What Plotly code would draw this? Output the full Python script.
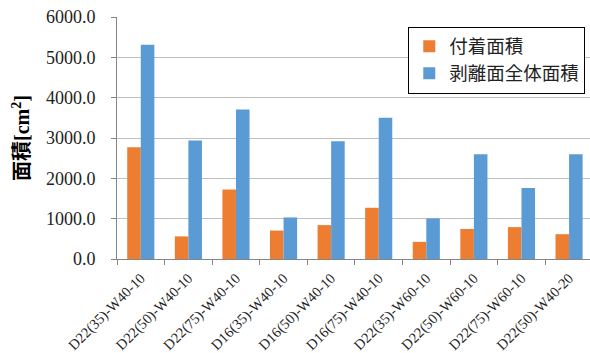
import plotly.graph_objects as go

categories = ["D22(35)-W40-10", "D22(50)-W40-10", "D22(75)-W40-10", "D16(35)-W40-10",
              "D16(50)-W40-10", "D16(75)-W40-10", "D22(35)-W60-10", "D22(50)-W60-10",
              "D22(75)-W60-10", "D22(50)-W40-20"]
adhesion_area = [2770, 560, 1725, 705, 840, 1270, 425, 745, 790, 615]
peel_total_area = [5310, 2935, 3705, 1030, 2920, 3500, 1005, 2600, 1760, 2600]
series_names = ["付着面積", "剥離面全体面積"]
y_ticks = [0, 1000, 2000, 3000, 4000, 5000, 6000]

fig = go.Figure()
fig.add_trace(go.Bar(x=categories, y=adhesion_area, name=series_names[0],
                     marker=dict(color="#ED7D31", line=dict(width=0))))
fig.add_trace(go.Bar(x=categories, y=peel_total_area, name=series_names[1],
                     marker=dict(color="#5B9BD5", line=dict(width=0))))

serif = "Liberation Serif, Times New Roman, serif"
cjk = "Noto Sans CJK JP"

fig.update_layout(
    width=590, height=353,
    margin=dict(l=117, r=0, t=17, b=94),
    paper_bgcolor="white", plot_bgcolor="white",
    barmode="group", bargap=0.43, bargroupgap=0,
    font=dict(family=serif, color="#000000"),
    legend=dict(x=0.99, y=0.96, xanchor="right", yanchor="top",
                bordercolor="#000000", borderwidth=1, bgcolor="white",
                font=dict(family=cjk, size=18.5, color="#222222"),
                tracegroupgap=0),
    showlegend=True,
)
fig.update_xaxes(
    type="category", range=[-0.5, 9.44], automargin=False,
    showline=True, linecolor="#868686", linewidth=1,
    ticks="outside", ticklen=5, tickcolor="#868686", tickson="boundaries",
    tickangle=-45, tickfont=dict(family=serif, size=14.5, color="#222222"),
    ticklabelstandoff=4,
    showgrid=False,
)
fig.update_yaxes(
    range=[0, 6000], tickvals=y_ticks, automargin=False,
    ticktext=[f"{v:.1f}" for v in y_ticks],
    showline=True, linecolor="#868686", linewidth=1,
    ticks="outside", ticklen=5, tickcolor="#868686",
    showgrid=True, gridcolor="#BFBFBF", gridwidth=1,
    zeroline=False,
    tickfont=dict(family=serif, size=18, color="#222222"),
    ticklabelstandoff=12,
    title=dict(text="<b>面積[cm<sup>2</sup>]</b>",
               font=dict(family="Liberation Serif, Noto Sans CJK JP", size=20, color="#000000"),
               standoff=10),
)

fig.write_html("out.html")
